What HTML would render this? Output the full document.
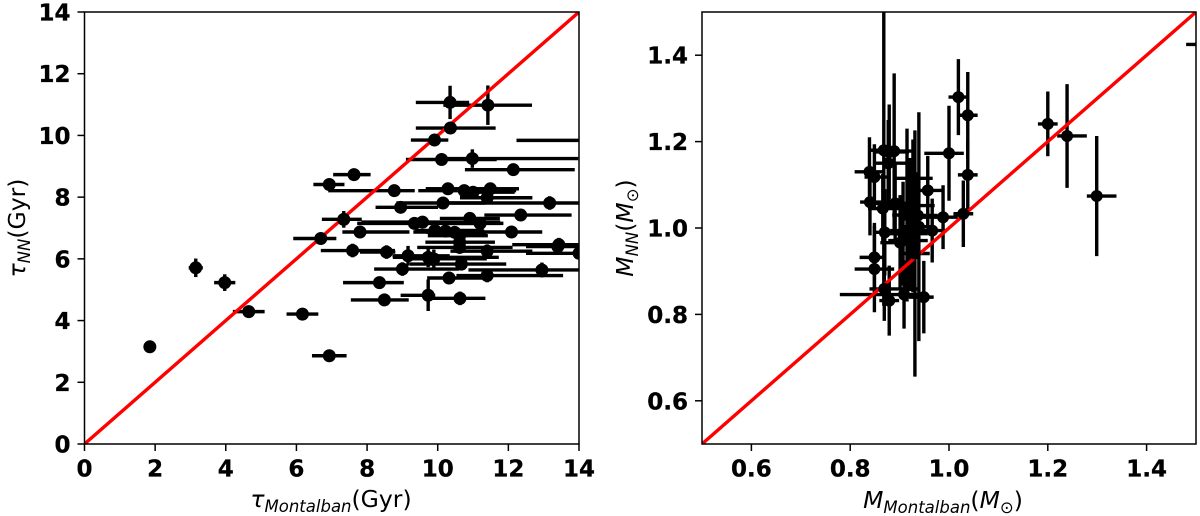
<!DOCTYPE html>
<html>
<head>
<meta charset="utf-8">
<title>Age and mass comparison</title>
<style>
html,body{margin:0;padding:0;background:#fff;width:1200px;height:516px;overflow:hidden}
svg{display:block}
text{font-family:"DejaVu Sans",sans-serif;fill:#000}
.tick{font-weight:bold;font-size:23px;stroke:#000;stroke-width:.3px}
.lab{font-size:23.5px}
.sub{font-size:16.5px;font-style:italic}
</style>
</head>
<body>
<svg id="fig" width="1200" height="516" viewBox="0 0 1200 516" xmlns="http://www.w3.org/2000/svg">
<defs>
<clipPath id="clipL"><rect x="84.5" y="12" width="494.5" height="432"/></clipPath>
<clipPath id="clipR"><rect x="702" y="12" width="494" height="432"/></clipPath>
</defs>
<g id="panelL"></g>
<g id="panelR"></g>
<text class="lab" x="331" y="507" text-anchor="middle"><tspan font-style="italic">τ</tspan><tspan class="sub" dy="5">Montalban</tspan><tspan dy="-5">(Gyr)</tspan></text>
<text class="lab" transform="translate(25,228) rotate(-90)" text-anchor="middle"><tspan font-style="italic">τ</tspan><tspan class="sub" dy="5">NN</tspan><tspan dy="-5">(Gyr)</tspan></text>
<text class="lab" x="943" y="508" text-anchor="middle"><tspan font-style="italic">M</tspan><tspan class="sub" dy="5">Montalban</tspan><tspan dy="-5">(</tspan><tspan font-style="italic">M</tspan><tspan font-size="16.5px" dy="5">⊙</tspan><tspan dy="-5">)</tspan></text>
<text class="lab" transform="translate(633,228) rotate(-90)" text-anchor="middle"><tspan font-style="italic">M</tspan><tspan class="sub" dy="5">NN</tspan><tspan dy="-5">(</tspan><tspan font-style="italic">M</tspan><tspan font-size="16.5px" dy="5">⊙</tspan><tspan dy="-5">)</tspan></text>
</svg>
<script>
// Age panel data
const ageX = [10.35,11.42,10.36,9.91,10.11,10.98,12.14,14.8,7.63,6.93,8.77,10.29,10.75,11.0,11.49,11.4,10.15,8.95,13.17,12.35,7.34,9.34,9.57,10.91,11.2,7.8,12.09,6.69,9.92,10.22,10.48,10.62,10.62,10.62,13.43,13.4,7.59,8.55,11.4,14.0,9.16,9.73,9.89,10.67,9.0,12.95,11.4,10.32,8.35,9.73,10.63,8.49,6.17,6.93,1.85,3.15,3.97,4.65];
const ageY = [11.07,10.98,10.24,9.85,9.22,9.25,8.89,9.84,8.73,8.41,8.21,8.27,8.21,8.16,8.27,7.98,7.81,7.67,7.81,7.42,7.28,7.15,7.19,7.31,7.15,6.87,6.87,6.66,6.92,6.9,6.86,6.75,6.54,6.37,6.46,6.4,6.27,6.22,6.25,6.18,6.1,6.05,6.0,5.83,5.67,5.64,5.46,5.38,5.23,4.82,4.72,4.67,4.21,2.86,3.15,5.71,5.23,4.29];
const ageXErrLow = [.97,1.26,.98,.67,1.01,.9,1.37,2.57,.59,.45,1.87,.63,1.3,.38,1.82,.77,1.32,.71,3.02,1.03,.62,1.62,1.73,.85,.86,.5,2.78,.78,.57,.82,.8,.9,.97,1.2,1.32,.9,.9,.75,1.04,1.5,.44,1.0,.8,1.46,.8,2.08,.87,.62,1.03,.78,.9,.95,.45,.49,.1,.2,.3,.45];
const ageXErrHigh = [.54,1.25,1.28,.39,1.56,3.0,1.74,1,.47,.43,.58,2.01,1.47,1.18,.81,1.28,1.2,1.06,1.5,1.44,.51,1.86,2.2,.85,.66,1.4,.87,.44,1.37,1.1,.9,.8,1.0,1.5,1.5,1.0,1.2,.25,1.28,1,1.18,2.0,1.5,1.27,1.6,1.5,2.15,1.2,.69,.2,.72,.69,.45,.49,.1,.2,.3,.45];
const ageYErr = [.54,.64,.11,.09,.09,.3,.11,.1,.09,.09,.11,.11,.11,.11,.11,.11,.11,.11,.22,.11,.27,.11,.16,.2,.13,.11,.11,.09,.16,.16,.16,.2,.2,.2,.22,.2,.22,.22,.22,.18,.32,.32,.3,.16,.22,.24,.22,.2,.2,.51,.22,.2,.13,.13,.2,.3,.27,.1];
const ageXTicks = ["0","2","4","6","8","10","12","14"];
const ageYTicks = ["0","2","4","6","8","10","12","14"];
const ageRange = [0,14];
// Mass panel data
const massX = [.868,.889,.879,.839,.849,1.0,1.019,1.038,1.038,1.029,.988,.84,.849,.849,.869,.879,.909,.949,.931,.939,.877,.927,.957,.866,.891,.921,.937,.87,.907,.921,.966,.901,.927,.915,1.2,1.239,1.299,1.51];
const massY = [1.18,1.178,1.176,1.13,1.118,1.173,1.303,1.261,1.123,1.033,1.025,1.06,.932,.905,.859,.832,.846,.84,.941,1.003,1.15,1.115,1.087,1.045,1.057,1.052,1.029,.99,.987,.994,.994,.966,.971,1.03,1.241,1.213,1.074,1.425];
const massXErrLow = [.03,.02,.03,.03,.02,.05,.02,.02,.02,.02,.05,.02,.03,.04,.03,.02,.13,.03,.03,.03,.03,.04,.03,.03,.04,.05,.04,.02,.04,.04,.03,.04,.05,.03,.02,.02,.02,.03];
const massXErrHigh = [.03,.04,.04,.03,.03,.03,.02,.02,.02,.02,.03,.05,.02,.04,.07,.02,.04,.02,.03,.03,.04,.04,.03,.05,.04,.05,.04,.03,.05,.04,.03,.03,.03,.03,.02,.04,.04,.03];
const massYErr = [.36,.18,.11,.08,.076,.11,.088,.1,.08,.077,.074,.077,.08,.1,.074,.081,.079,.084,.285,.265,.1,.09,.08,.08,.09,.11,.1,.1,.12,.14,.074,.11,.12,.2,.075,.12,.139,.03];
const massXTicks = ["0.6","0.8","1.0","1.2","1.4"];
const massYTicks = ["0.6","0.8","1.0","1.2","1.4"];
const massRange = [0.5,1.5];

const NS = "http://www.w3.org/2000/svg";
function mk(parent, tag, attrs){
  const el = document.createElementNS(NS, tag);
  for (const k in attrs) el.setAttribute(k, attrs[k]);
  parent.appendChild(el);
  return el;
}
function drawPanel(root, box, range, clip, markerR, xs, ys, xLo, xHi, yE, xTicks, yTicks){
  const sx = v => box.l + (v - range[0]) / (range[1] - range[0]) * (box.r - box.l);
  const sy = v => box.b - (v - range[0]) / (range[1] - range[0]) * (box.b - box.t);
  const plot = mk(root, "g", {"clip-path": "url(#" + clip + ")"});
  
  
  xs.forEach((x, i) => {
    const h = mk(plot, "line", {x1: sx(x - xLo[i]), x2: sx(x + xHi[i]), y1: sy(ys[i]), y2: sy(ys[i]), stroke: "#000", "stroke-width": 3.4});
    
    
    const v = mk(plot, "line", {x1: sx(x), x2: sx(x), y1: sy(ys[i] - yE[i]), y2: sy(ys[i] + yE[i]), stroke: "#000", "stroke-width": 3.4});
    
    
  });
  const ref = mk(plot, "line", {x1: sx(range[0]), y1: sy(range[0]), x2: sx(range[1]), y2: sy(range[1]), stroke: "#f00", "stroke-width": 3.4});
  
  
  xs.forEach((x, i) => {
    const c = mk(plot, "circle", {cx: sx(x), cy: sy(ys[i]), r: markerR, fill: "#000"});
    
    
  });
  const frame = mk(root, "rect", {x: box.l, y: box.t, width: box.r - box.l, height: box.b - box.t, fill: "none", stroke: "#000", "stroke-width": 1.5});
  
  
  xTicks.forEach(t => {
    const p = sx(parseFloat(t));
    const tk = mk(root, "line", {x1: p, x2: p, y1: box.b, y2: box.b + 7, stroke: "#000", "stroke-width": 1.5});
    
    
    const lb = mk(root, "text", {x: p, y: 476.5, "text-anchor": "middle", class: "tick"});
    lb.textContent = t;
    
    
  });
  yTicks.forEach(t => {
    const p = sy(parseFloat(t));
    const tk = mk(root, "line", {x1: box.l - 7, x2: box.l, y1: p, y2: p, stroke: "#000", "stroke-width": 1.5});
    
    
    const lb = mk(root, "text", {x: box.l - 14, y: p + 8.5, "text-anchor": "end", class: "tick"});
    lb.textContent = t;
    
    
  });
}
drawPanel(document.getElementById("panelL"), {l:84.5, r:579, t:12, b:444}, ageRange, "clipL", 6.5, ageX, ageY, ageXErrLow, ageXErrHigh, ageYErr, ageXTicks, ageYTicks);
drawPanel(document.getElementById("panelR"), {l:702, r:1196, t:12, b:444}, massRange, "clipR", 6, massX, massY, massXErrLow, massXErrHigh, massYErr, massXTicks, massYTicks);
</script>
</body>
</html>
